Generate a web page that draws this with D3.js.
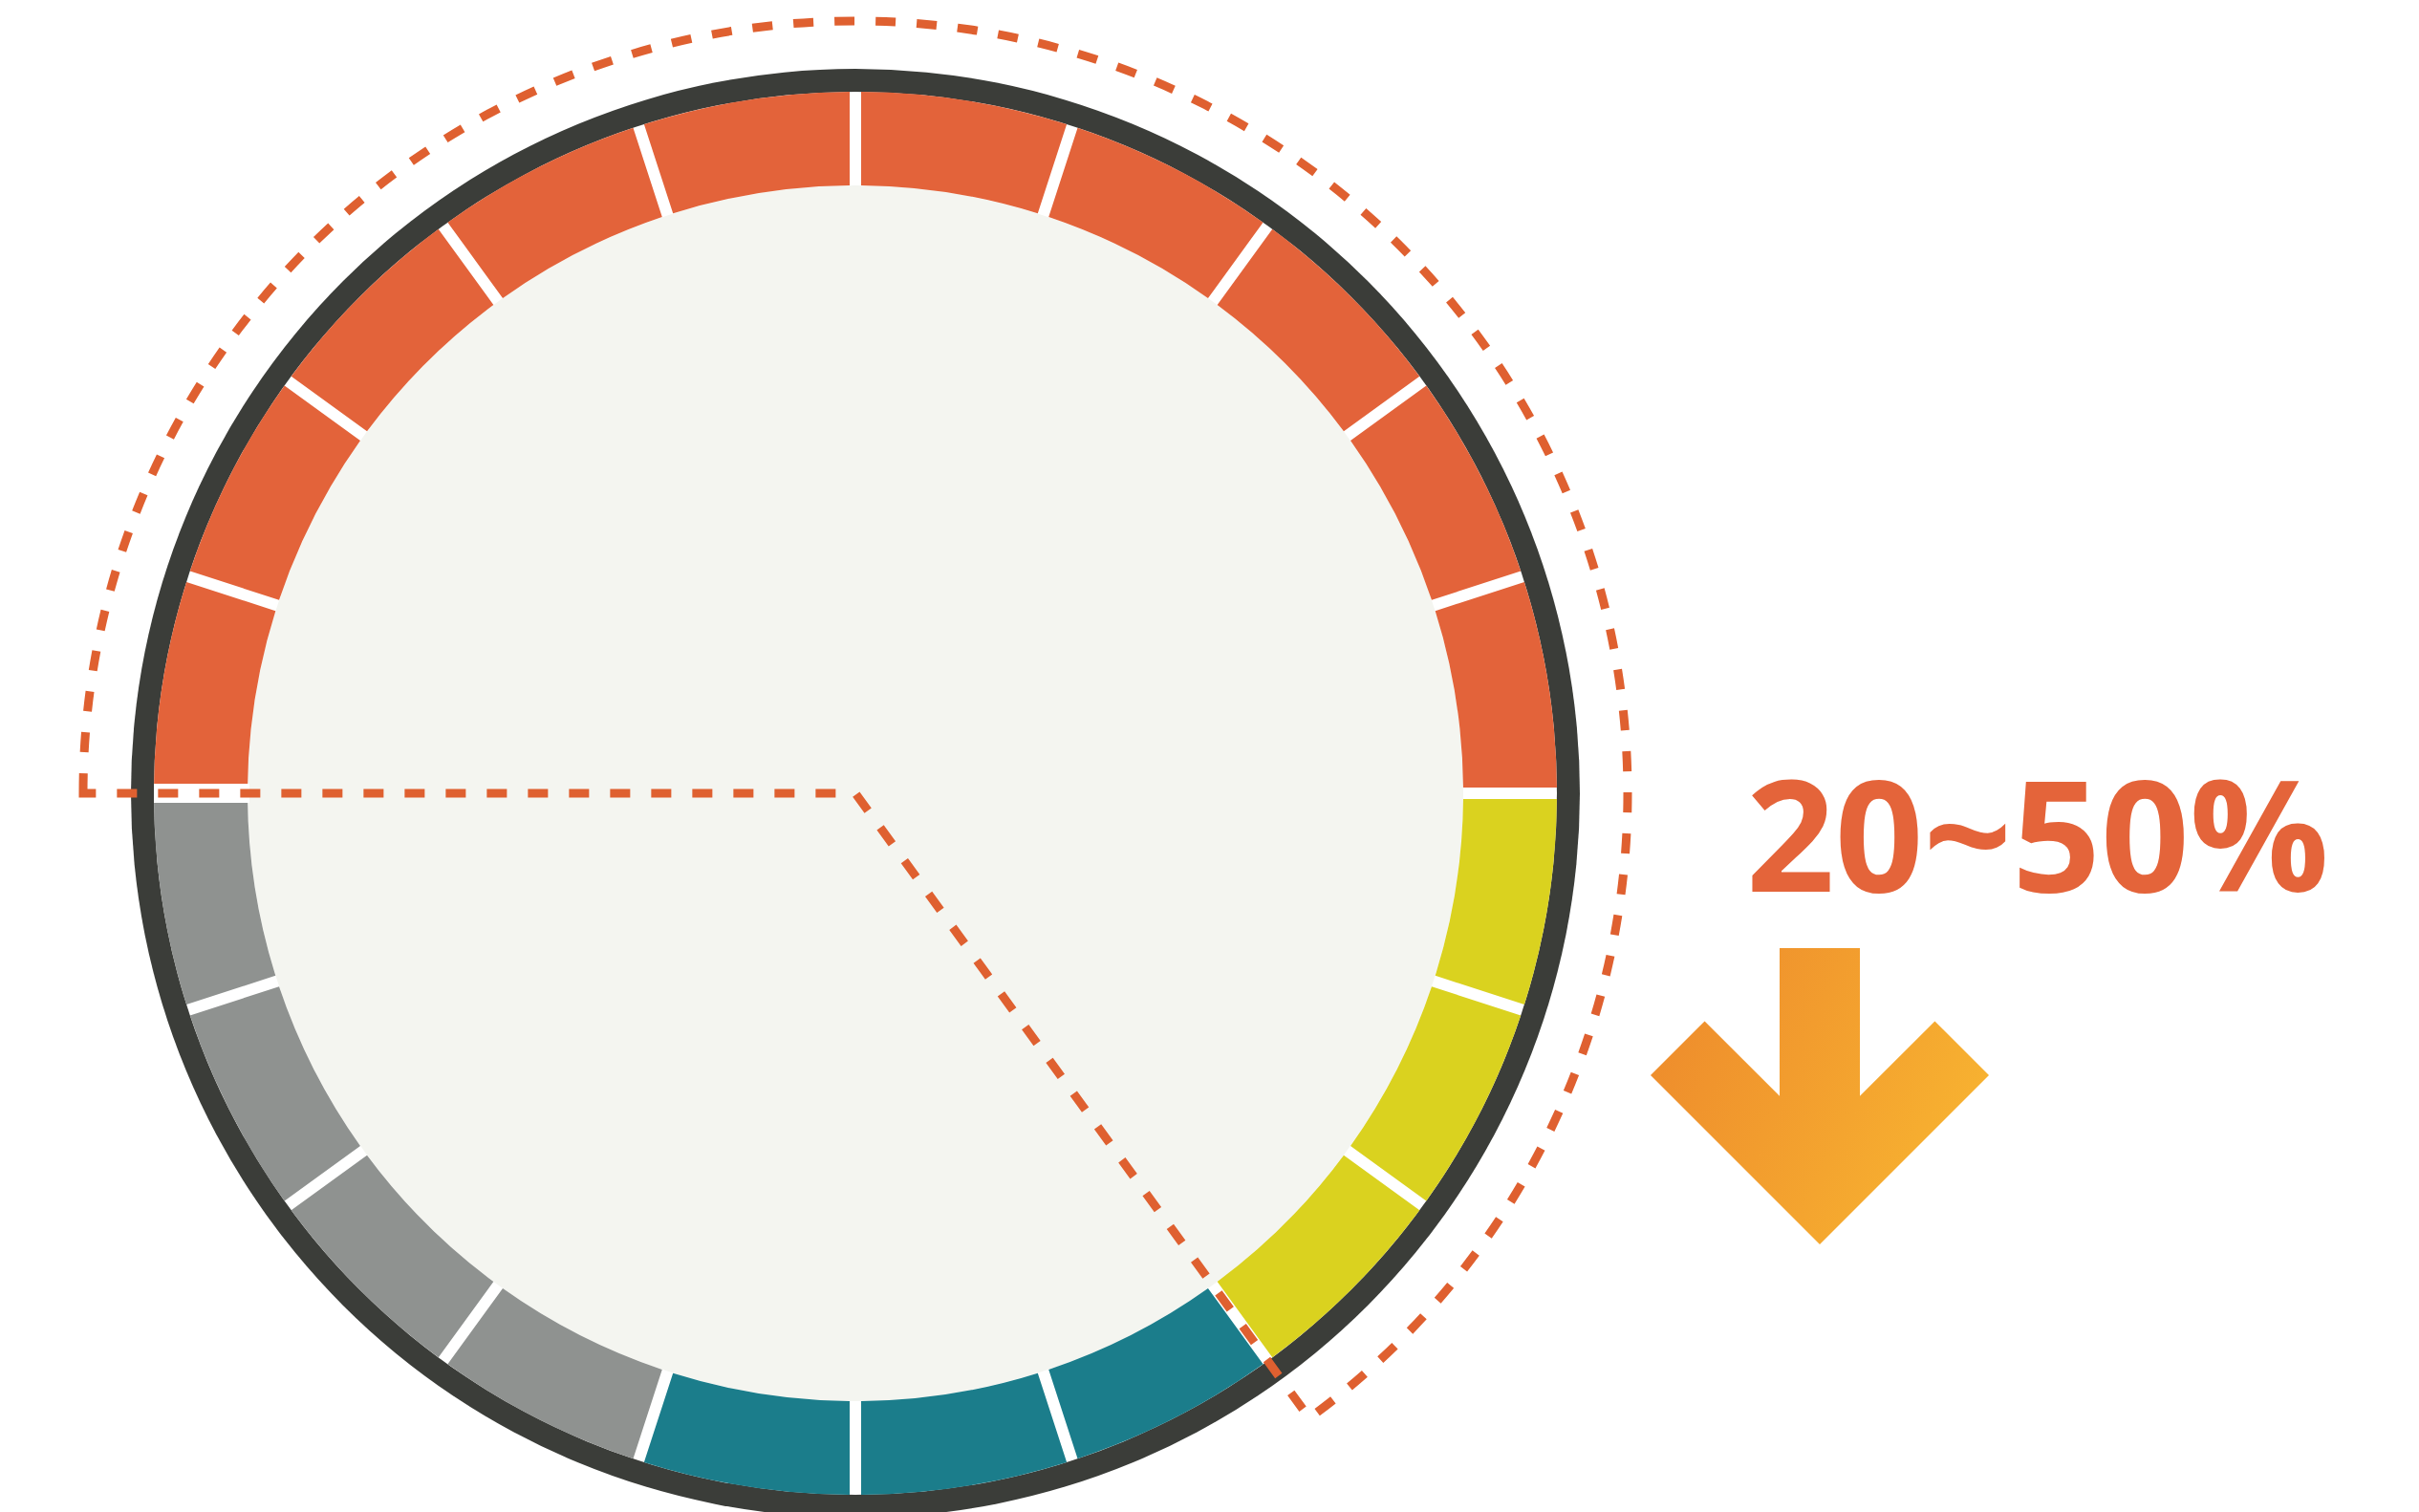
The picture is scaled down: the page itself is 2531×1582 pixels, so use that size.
<!DOCTYPE html>
<html>
<head>
<meta charset="utf-8">
<script src="https://cdn.jsdelivr.net/npm/d3@7"></script>
<style>
  html, body { margin: 0; padding: 0; background: #ffffff; }
  svg { display: block; }
</style>
</head>
<body>
<div id="chart"></div>
<script>
// Data: share of each band (percent), drawn as 5% cells around the dial
const categories = ["A", "B", "C", "D"];
const shares = [50, 15, 15, 20];
const colors = ["#e3633a", "#dad21f", "#1b7d8b", "#8f9290"];
const cellStep = 5;
// highlighted part (dashed wedge) covers these categories
const highlighted = ["A", "B"];
const label = "20~50%";

const W = 2531, H = 1582;
const cx = 895, cy = 830;
const rInner = 636, rOuter = 734, rRing = 758, rDash = 808;

const svg = d3.select("#chart").append("svg")
    .attr("width", W)
    .attr("height", H)
    .attr("viewBox", `0 0 ${W} ${H}`);

const defs = svg.append("defs");
const grad = defs.append("linearGradient")
    .attr("id", "arrowGrad")
    .attr("x1", "0").attr("y1", "0.3").attr("x2", "1").attr("y2", "0.7");
grad.append("stop").attr("offset", "0%").attr("stop-color", "#ee8c2c");
grad.append("stop").attr("offset", "100%").attr("stop-color", "#f8b531");

const g = svg.append("g").attr("transform", `translate(${cx},${cy})`);

// dial background
g.append("circle").attr("r", rRing).attr("fill", "#3b3d39");
g.append("circle").attr("r", rOuter).attr("fill", "#ffffff");
g.append("circle").attr("r", rInner).attr("fill", "#f4f5f0");

// one cell per 5%
const cells = [];
categories.forEach((c, i) => {
    const n = Math.round(shares[i] / cellStep);
    for (let k = 0; k < n; k++) cells.push({ cat: c, color: colors[i], v: cellStep });
});

const startA = -Math.PI / 2;
const pie = d3.pie().value(d => d.v).sort(null)
    .startAngle(startA).endAngle(startA + 2 * Math.PI);

const padR = (rInner + rOuter) / 2;
const arc = d3.arc()
    .innerRadius(rInner)
    .outerRadius(rOuter)
    .padRadius(padR)
    .padAngle(12 / padR);

g.selectAll("path.cell")
    .data(pie(cells))
    .enter()
    .append("path")
    .attr("class", "cell")
    .attr("d", arc)
    .attr("fill", d => d.data.color);

// wider white gap on the 9 o'clock boundary
g.append("line")
    .attr("x1", -rOuter).attr("x2", -rInner + 2)
    .attr("y1", 0).attr("y2", 0)
    .attr("stroke", "#ffffff").attr("stroke-width", 20);

// dashed wedge around the highlighted share
const total = d3.sum(shares);
const hiShare = d3.sum(categories.map((c, i) => highlighted.includes(c) ? shares[i] : 0));
const angle = d3.scaleLinear().domain([0, total]).range([startA, startA + 2 * Math.PI]);

const wedge = d3.arc()
    .innerRadius(0)
    .outerRadius(rDash)
    .startAngle(angle(0))
    .endAngle(angle(hiShare));

g.append("path")
    .attr("d", wedge())
    .attr("fill", "none")
    .attr("stroke", "#df6030")
    .attr("stroke-width", 9)
    .attr("stroke-dasharray", "21 22");

// label
svg.append("text")
    .attr("x", 1827)
    .attr("y", 933)
    .attr("font-family", "'Open Sans', 'Noto Sans', sans-serif")
    .attr("font-weight", 700)
    .attr("font-size", 161)
    .attr("fill", "#e4643a")
    .attr("textLength", 610)
    .attr("lengthAdjust", "spacingAndGlyphs")
    .text(label);

// down arrow
const ax = 1904, aTop = 992, aTip = 1302, shaftW = 84, armW = 80, armLen = 177;
const s = Math.SQRT1_2;
const outerL = [ax - armLen, aTip - armLen];
const outerR = [ax + armLen, aTip - armLen];
const armTopL = [outerL[0] + armW * s, outerL[1] - armW * s];
const armTopR = [outerR[0] - armW * s, outerR[1] - armW * s];
const joinY = armTopL[1] + ((ax - shaftW / 2) - armTopL[0]);
const arrowPts = [
    [ax - shaftW / 2, aTop],
    [ax + shaftW / 2, aTop],
    [ax + shaftW / 2, joinY],
    armTopR,
    outerR,
    [ax, aTip],
    outerL,
    armTopL,
    [ax - shaftW / 2, joinY]
];
svg.append("path")
    .attr("d", d3.line()(arrowPts) + "Z")
    .attr("fill", "url(#arrowGrad)");
</script>
</body>
</html>
